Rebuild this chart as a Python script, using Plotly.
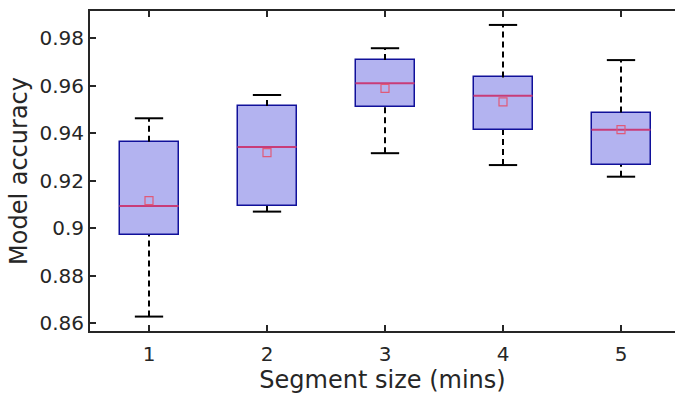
import plotly.graph_objects as go

segments = [1, 2, 3, 4, 5]
lower = [0.8627, 0.9069, 0.9315, 0.9265, 0.9216]
q1 = [0.8971, 0.9093, 0.9511, 0.9413, 0.9265]
median = [0.9093, 0.9341, 0.9609, 0.9557, 0.9414]
q3 = [0.9363, 0.9514, 0.9707, 0.9634, 0.9486]
upper = [0.9462, 0.9560, 0.9757, 0.9855, 0.9707]
means = [0.9115, 0.9317, 0.9588, 0.9531, 0.9414]
yticks = [0.86, 0.88, 0.90, 0.92, 0.94, 0.96, 0.98]
ytick_text = ["0.86", "0.88", "0.9", "0.92", "0.94", "0.96", "0.98"]

BOX_HALF = 0.25
CAP_HALF = 0.12
INK = "#262626"

fig = go.Figure()

# whiskers (dashed)
wx, wy = [], []
for s, lo, a, b, hi in zip(segments, lower, q1, q3, upper):
    wx += [s, s, None, s, s, None]
    wy += [lo, a, None, b, hi, None]
fig.add_trace(go.Scatter(x=wx, y=wy, mode="lines",
                         line=dict(color="black", width=2, dash="6px,4px"),
                         hoverinfo="skip", showlegend=False))
# caps
cx, cy = [], []
for s, lo, hi in zip(segments, lower, upper):
    cx += [s - CAP_HALF, s + CAP_HALF, None, s - CAP_HALF, s + CAP_HALF, None]
    cy += [lo, lo, None, hi, hi, None]
fig.add_trace(go.Scatter(x=cx, y=cy, mode="lines",
                         line=dict(color="black", width=2),
                         hoverinfo="skip", showlegend=False))
# boxes
fig.add_trace(go.Bar(x=segments, y=[b - a for a, b in zip(q1, q3)], base=q1,
                     width=2 * BOX_HALF,
                     marker=dict(color="#b3b3f0", line=dict(color="#10109a", width=1.5)),
                     showlegend=False))
# medians
mx, my = [], []
for s, m in zip(segments, median):
    mx += [s - BOX_HALF, s + BOX_HALF, None]
    my += [m, m, None]
fig.add_trace(go.Scatter(x=mx, y=my, mode="lines",
                         line=dict(color="#c83c78", width=2),
                         hoverinfo="skip", showlegend=False))
# means
fig.add_trace(go.Scatter(x=segments, y=means, mode="markers",
                         marker=dict(symbol="square-open", size=8,
                                     color="#e05a78", line=dict(width=1.2)),
                         showlegend=False))

x_left = 0.5
x_right = 0.5 + 585 / 118
y_range = [0.85663, 0.99137]

fig.update_layout(
    width=675, height=394,
    margin=dict(l=90, r=0, t=11, b=63),
    paper_bgcolor="white", plot_bgcolor="white",
    font=dict(family="DejaVu Sans", color=INK, size=20),
    bargap=0,
    xaxis=dict(range=[x_left, x_right], tickvals=segments,
               ticks="inside", ticklen=6, tickwidth=2, tickcolor=INK,
               showline=True, linecolor=INK, linewidth=2, mirror="ticks",
               showgrid=False, zeroline=False, ticklabelstandoff=4,
               title=dict(text="Segment size (mins)", font=dict(size=24), standoff=6),
               tickfont=dict(size=20)),
    yaxis=dict(range=y_range, tickvals=yticks, ticktext=ytick_text,
               ticks="inside", ticklen=6, tickwidth=2, tickcolor=INK,
               showline=True, linecolor=INK, linewidth=2,
               showgrid=False, zeroline=False,
               title=dict(text="Model accuracy", font=dict(size=24), standoff=5),
               tickfont=dict(size=20)),
    yaxis2=dict(range=y_range, tickvals=yticks, overlaying="y", side="right",
                ticks="inside", ticklen=6, tickwidth=2, tickcolor=INK,
                showline=False, showgrid=False, zeroline=False,
                showticklabels=False),
)

fig.write_html("out.html")
